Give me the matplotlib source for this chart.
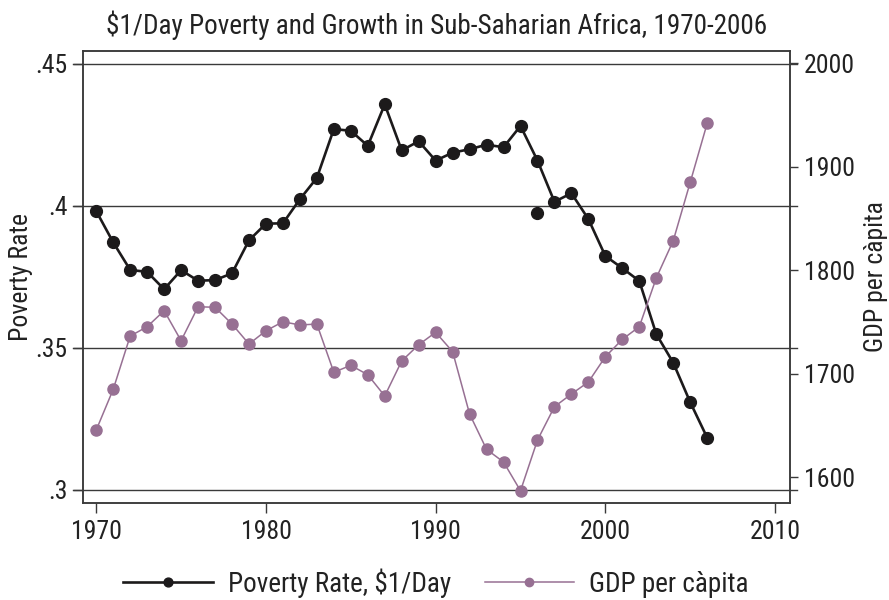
import matplotlib
matplotlib.use('Agg')
import matplotlib.pyplot as plt
from matplotlib import font_manager as fm

# ---------------- data ----------------
years = [1970, 1971, 1972, 1973, 1974, 1975, 1976, 1977, 1978, 1979,
         1980, 1981, 1982, 1983, 1984, 1985, 1986, 1987, 1988, 1989,
         1990, 1991, 1992, 1993, 1994, 1995, 1996, 1997, 1998, 1999,
         2000, 2001, 2002, 2003, 2004, 2005, 2006]

poverty = [0.3981, 0.3871, 0.3774, 0.3767, 0.3706, 0.3773, 0.3736, 0.3738, 0.3762, 0.3878,
           0.3937, 0.3938, 0.4023, 0.4098, 0.4270, 0.4264, 0.4211, 0.4357, 0.4195, 0.4227,
           0.4159, 0.4187, 0.4199, 0.4215, 0.4206, 0.4281, 0.4159, 0.4014, 0.4044, 0.3953,
           0.3823, 0.3780, 0.3735, 0.3548, 0.3447, 0.3308, 0.3183]

# extra (unconnected) observation
extra_year = [1996]
extra_poverty = [0.3973]

gdp = [1645.6, 1684.9, 1736.4, 1745.4, 1760.9, 1731.9, 1764.7, 1764.2, 1748.0, 1728.7,
       1741.5, 1750.2, 1747.1, 1748.0, 1701.4, 1708.1, 1699.0, 1678.5, 1712.3, 1728.0,
       1740.0, 1721.3, 1661.1, 1626.9, 1614.7, 1586.9, 1635.9, 1668.1, 1680.4, 1692.0,
       1716.4, 1733.2, 1745.4, 1792.5, 1828.5, 1884.9, 1941.9]

x_ticks = [1970, 1980, 1990, 2000, 2010]
left_ticks = [0.30, 0.35, 0.40, 0.45]
left_tick_labels = ['.3', '.35', '.4', '.45']
right_ticks = [1600, 1700, 1800, 1900, 2000]

title = '$1/Day Poverty and Growth in Sub-Saharian Africa, 1970-2006'
left_label = 'Poverty Rate'
right_label = 'GDP per càpita'
series_names = ['Poverty Rate, $1/Day', 'GDP per càpita']

# ---------------- style ----------------
names = {f.name for f in fm.fontManager.ttflist}
pref = ['Roboto Condensed', 'Liberation Sans Narrow', 'DejaVu Sans Condensed', 'DejaVu Sans']
family = next(n for n in pref if n in names)
plt.rcParams['font.family'] = [family, 'DejaVu Sans']
plt.rcParams['mathtext.default'] = 'regular'

FS_T = 19.5   # title / legend
FS = 18.5     # ticks / axis labels
BLACK = '#1c1a1b'
PURPLE = '#977093'
AXC = '#3a3a3a'
TXT = '#222222'

fig = plt.figure(figsize=(8.89, 6.0), dpi=100)
ax = fig.add_axes([83/889, 1-503/600, (790-83)/889, (503-51)/600])
ax2 = ax.twinx()

ax.set_xlim(1969.22, 2010.88)
ax.set_ylim(0.2953, 0.4545)
ax2.set_ylim(1575.1, 2011.8)

# gridlines (extend slightly beyond the frame like the original)
for t in left_ticks:
    ax.axhline(t, xmin=-0.014, xmax=1.01, color=AXC, lw=1.0, clip_on=False, zorder=1)

ax.plot(years, poverty, color=BLACK, lw=1.9, marker='o', ms=8.5,
        mfc=BLACK, mec=BLACK, zorder=3, label=series_names[0])
ax.plot(extra_year, extra_poverty, linestyle='none', marker='o', ms=8.5,
        mfc=BLACK, mec=BLACK, zorder=3)
ax2.plot(years, gdp, color=PURPLE, lw=1.1, marker='o', ms=8.0,
         mfc=PURPLE, mec=PURPLE, zorder=3, label=series_names[1])

ax.set_xticks(x_ticks)
ax.set_xticklabels([str(v) for v in x_ticks])
ax.set_yticks(left_ticks)
ax.set_yticklabels(left_tick_labels)
ax2.set_yticks(right_ticks)
ax2.set_yticklabels([str(v) for v in right_ticks])

for a in (ax, ax2):
    for s in a.spines.values():
        s.set_color(AXC)
        s.set_linewidth(1.1)
ax.tick_params(axis='x', direction='out', length=7.5, width=1.0, color=AXC,
               labelsize=FS, pad=4.5, labelcolor=TXT)
ax.tick_params(axis='y', direction='out', length=7.5, width=1.0, color=AXC,
               labelsize=FS, pad=3.5, labelcolor=TXT)
ax2.tick_params(axis='y', direction='out', length=5.5, width=1.0, color=AXC,
                labelsize=FS, pad=4.5, labelcolor=TXT)

ax.set_ylabel(left_label, fontsize=FS, color=TXT)
ax.yaxis.set_label_coords(-0.088, 0.5)
ax.yaxis.label.set_va('center')
ax2.set_ylabel(right_label, fontsize=FS, color=TXT)
ax2.yaxis.set_label_coords(1.1216, 0.5)
ax2.yaxis.label.set_va('center')

fig.text(436.5/889, 1-25/600, title, ha='center', va='center', fontsize=FS_T, color=TXT)

h1, l1 = ax.get_legend_handles_labels()
h2, l2 = ax2.get_legend_handles_labels()
leg = fig.legend(h1 + h2, l1 + l2, loc='center', bbox_to_anchor=(436/889, 1-583/600),
                 ncol=2, frameon=False, fontsize=FS_T, handlelength=3.3,
                 handletextpad=0.55, columnspacing=1.25, markerscale=0.75)
for t in leg.get_texts():
    t.set_color(TXT)

fig.savefig('out.png', dpi=100)
